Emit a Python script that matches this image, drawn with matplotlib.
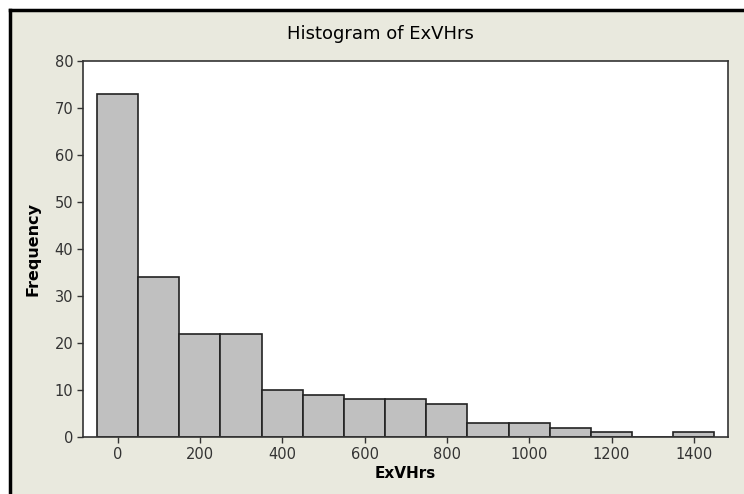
import numpy as np
import matplotlib.pyplot as plt
from matplotlib.lines import Line2D

# bin centres and counts
bin_centers = [0, 100, 200, 300, 400, 500, 600, 700, 800, 900, 1000, 1100, 1200, 1300, 1400]
counts = [73, 34, 22, 22, 10, 9, 8, 8, 7, 3, 3, 2, 1, 0, 1]
bin_width = 100
x_ticks = [0, 200, 400, 600, 800, 1000, 1200, 1400]
y_ticks = [0, 10, 20, 30, 40, 50, 60, 70, 80]

plt.rcParams['font.family'] = ['DejaVu Sans']

fig = plt.figure(figsize=(7.44, 4.94), dpi=100)
fig.patch.set_facecolor('white')

# beige panel with black border on top/left
bg = plt.Rectangle((10 / 744, 0), 1, 1 - 10 / 494, transform=fig.transFigure,
                   facecolor='#E9E9DE', edgecolor='none', zorder=-10)
fig.patches.append(bg)
fig.add_artist(Line2D([10 / 744, 1], [1 - 10 / 494, 1 - 10 / 494], color='black', lw=2.5,
                      transform=fig.transFigure))
fig.add_artist(Line2D([10 / 744, 10 / 744], [0, 1 - 10 / 494], color='black', lw=2.5,
                      transform=fig.transFigure))

ax = fig.add_axes([83 / 744, 57 / 494, 645 / 744, 376 / 494])
ax.set_facecolor('white')
ax.bar(bin_centers, counts, width=bin_width, color='#C0C0C0', edgecolor='#222222', linewidth=1.2)

ax.set_xlim(-84, 1483)
ax.set_ylim(0, 80)
ax.set_xticks(x_ticks)
ax.set_yticks(y_ticks)
ax.tick_params(direction='out', length=4, width=1, labelsize=10.5, colors='#333333',
               labelcolor='#333333', pad=3)
for s in ax.spines.values():
    s.set_color('#333333')
    s.set_linewidth(1.2)

ax.set_xlabel('ExVHrs', fontsize=11, fontweight='bold', labelpad=3)
ax.set_ylabel('Frequency', fontsize=11.5, fontweight='bold', labelpad=10)
fig.text(380 / 744, 1 - 39 / 494, 'Histogram of ExVHrs', ha='center', va='baseline', fontsize=13)

plt.savefig('out.png', dpi=100, facecolor=fig.get_facecolor())
